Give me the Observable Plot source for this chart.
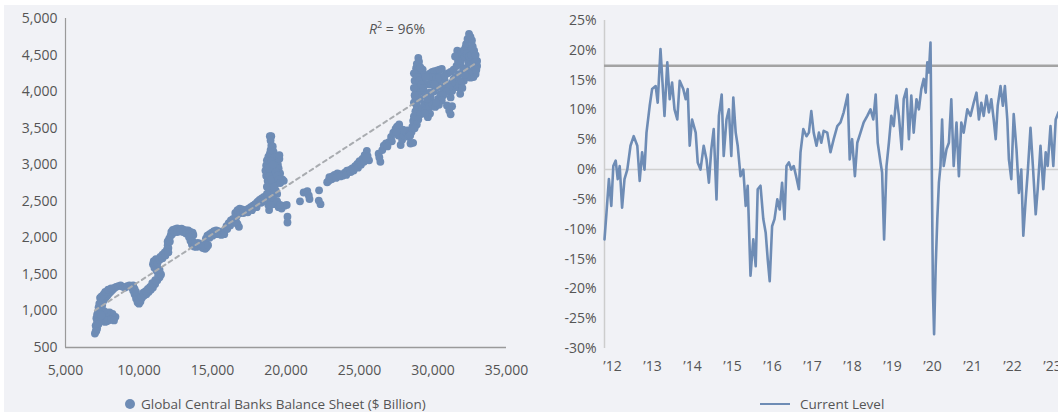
<!DOCTYPE html>
<html>
<head>
<meta charset="utf-8">
<script src="https://cdn.jsdelivr.net/npm/d3@7"></script>
<script src="https://cdn.jsdelivr.net/npm/@observablehq/plot@0.6"></script>
<style>
  html, body { margin: 0; padding: 0; background: #ffffff; overflow: hidden; }
  body { width: 1058px; height: 412px; position: relative; font-family: "Open Sans", "Noto Sans", sans-serif; color: #555; }
  #bg { position: absolute; left: 4px; top: 5px; right: 0; bottom: 0; background: #f1f2f6; }
  #left, #right { position: absolute; top: 0; }
  #left { left: 0; }
  #right { left: 540px; }
  .legend { position: absolute; top: 395px; font-size: 13.5px; color: #555; white-space: nowrap; display: flex; align-items: center; }
  .dotkey { display: inline-block; width: 10px; height: 10px; border-radius: 50%; background: #6e8cb5; margin-right: 6px; }
  .linekey { display: inline-block; width: 30px; height: 2px; background: #6e8cb5; margin-right: 10px; }
  #r2 { position: absolute; left: 369px; top: 18px; font-size: 14px; color: #555; }
</style>
</head>
<body>
<div id="bg"></div>
<div id="left"></div>
<div id="right"></div>
<div id="r2"><i>R</i><sup style="font-size:9px">2</sup> = 96%</div>
<div class="legend" style="left:125px"><span class="dotkey"></span>Global Central Banks Balance Sheet ($ Billion)</div>
<div class="legend" style="left:760px"><span class="linekey"></span>Current Level</div>
<script>
const blue = "#6e8cb5";

// Left chart: x = Global Central Banks Balance Sheet ($ bn), y = index level
const leftXTicks = [5000, 10000, 15000, 20000, 25000, 30000, 35000];
const leftYTicks = [500, 1000, 1500, 2000, 2500, 3000, 3500, 4000, 4500, 5000];
const scatterPoints = [
[7000,690],[7050,720],[7100,780],[7150,850],[7200,900],[7250,960],[7300,1000],[7350,1040],[7400,1050],[7450,1010],
[7500,990],[7550,960],[7600,940],[7700,920],[7800,910],[7900,900],[8000,920],[8100,930],[8200,910],[8300,900],
[8400,920],[8200,960],[8000,980],[7800,980],[7600,1000],[7500,1080],[7550,1130],[7650,1160],[7750,1190],[7850,1210],
[7950,1240],[8050,1260],[8150,1280],[8250,1300],[8350,1320],[8450,1330],[8600,1340],[8750,1350],[8900,1330],[9050,1320],
[9200,1340],[9350,1350],[9500,1320],[9600,1280],[9700,1230],[9800,1170],[9900,1120],[10000,1100],[10100,1130],[10200,1180],
[10350,1210],[10500,1230],[10650,1260],[10800,1290],[10950,1320],[11100,1370],[11250,1420],[11400,1460],[11350,1520],[11200,1550],
[11050,1590],[10950,1640],[11000,1680],[11150,1710],[11300,1700],[11450,1740],[11600,1770],[11750,1800],[11900,1840],[12000,1860],
[11950,1900],[11950,1950],[12050,1990],[12150,2030],[12200,2080],[12300,2110],[12450,2120],[12600,2130],[12750,2120],[12900,2125],
[13050,2110],[13200,2100],[13350,2100],[13500,2080],[13650,2070],[13700,2040],[13550,2000],[13500,1960],[13600,1910],[13750,1880],
[13900,1875],[14050,1890],[14200,1880],[14350,1860],[14500,1850],[14600,1870],[14550,1930],[14550,1990],[14650,2030],[14800,2050],
[14950,2070],[15100,2090],[15250,2100],[15400,2090],[15550,2080],[15700,2060],[15850,2110],[15950,2160],[16100,2200],[16250,2240],
[16400,2260],[16550,2250],[16700,2190],[16800,2150],[16650,2300],[16550,2340],[16700,2380],[16850,2400],[17000,2390],[17150,2380],
[17300,2380],[17450,2400],[17600,2420],[17750,2440],[17900,2460],[18050,2490],[18200,2520],[18350,2540],[18500,2560],[18650,2540],
[18800,2450],[18850,2380],[18950,2520],[19050,2600],[19050,2690],[18900,2720],[18750,2780],[18650,2850],[18600,2920],[18650,2990],
[18700,3060],[18800,3110],[18900,3150],[18950,3200],[19000,3260],[18950,3330],[18900,3390],[19000,3390],[19100,3250],[19150,3180],
[19200,3100],[19300,3020],[19450,3000],[19550,3080],[19550,3130],[19500,2950],[19600,2880],[19750,2800],[19850,2780],[19200,2900],
[19100,2850],[19250,2800],[19400,2750],[19300,2650],[19400,2600],[19300,2500],[19250,2460],[19500,2420],[19700,2400],[19900,2440],
[20050,2450],[20100,2290],[20100,2210],[20950,2500],[21200,2620],[21550,2580],[21600,2530],[21450,2640],[22250,2650],[22230,2510],
[22350,2460],[22800,2760],[22950,2830],[23150,2840],[23300,2860],[23500,2880],[23650,2870],[23850,2850],[24000,2890],[24150,2920],
[24350,2930],[24500,2950],[24700,2980],[24850,3010],[25000,3050],[25200,3080],[25350,3130],[25500,3190],[25550,3120],[25650,3060],
[26300,3150],[26420,3040],[26350,3100],[26550,3200],[26650,3260],[26800,3290],[27000,3310],[27150,3380],[27300,3440],[27450,3490],
[27550,3520],[27650,3400],[27800,3270],[27900,3340],[28000,3400],[28150,3450],[28250,3470],[28350,3380],[28470,3290],[28550,3450],
[28600,3520],[28650,3600],[28700,3660],[28800,3730],[28900,3790],[28850,3860],[28800,3920],[28850,4000],[28900,4060],[28850,4150],
[28800,4240],[28850,4320],[28900,4380],[29000,4460],[29050,4410],[29000,4300],[29100,4250],[29250,4240],[29450,4230],[29600,4220],
[29800,4250],[29950,4270],[30100,4280],[30300,4290],[30450,4300],[30600,4310],[30500,4200],[30350,4100],[30250,4060],[30050,4000],
[29850,3920],[29650,3880],[29400,3830],[29200,3740],[29150,3690],[29000,3620],[29300,3780],[29500,3760],[29600,3740],[29750,3790],
[29950,3830],[30150,3790],[30350,3900],[30500,3970],[30700,4050],[30850,4100],[31000,4000],[31200,3920],[31300,4010],[30950,3810],
[31100,3740],[31200,3690],[31300,3800],[31400,4170],[31550,4200],[31750,4240],[31850,4380],[31900,4430],[31650,4560],[31800,4500],
[32000,4460],[32100,4480],[32200,4600],[32250,4650],[32350,4720],[32450,4790],[32550,4750],[32650,4700],[32700,4620],[32750,4520],
[32850,4460],[33000,4420],[33000,4350],[32900,4240],[32750,4200],[32550,4190],[32350,4290],[32200,4320],[32050,4300],[32100,4150],
[31900,4100],[31650,4060],[31850,3970],[32000,4050],[32400,4400],[32600,4380],[32800,4300],[32900,4400],[32700,4450],[32500,4550],
[30800,4150],[30600,4180],[30400,4200],[29500,4100],[29200,4000],[29100,3900],[29400,4000],[29700,4100],[29300,4150],[29000,4100],
[28950,3950],[28900,3850],
[7050,800],[7100,900],[7150,950],[7200,980],[7250,1050],[7300,1100],[7400,1130],[7350,1180],[7450,1200],[7600,1230],
[7700,1260],[7900,1290],[8100,1310],[7200,850],[7300,880],[7400,900],[7500,880],[7600,870],[7700,850],[7800,860],
[7900,870],[8100,880],[8300,870],[7350,960],[7450,940],[7100,730],[7150,760],[7250,820],
[9700,1300],[9600,1350],[9800,1260],[10000,1150],[10150,1200],[10300,1250],[10450,1270],[10600,1300],[10750,1330],[10900,1380],
[11100,1420],[11300,1480],[11500,1500],[11400,1560],[11200,1600],[11100,1650],[11250,1650],[11400,1700],[11600,1720],[11800,1760],[12000,1800],
[12100,1950],[12250,2050],[12400,2080],[12600,2080],[12800,2090],[13000,2080],[13200,2060],[13400,2050],[13600,2030],[13400,2010],
[13650,1950],[13800,1920],[14000,1930],[14200,1920],[14400,1900],[14700,1900],[14800,2000],[15000,2030],[15300,2050],[15600,2040],
[15800,2050],[16000,2120],[16200,2170],[16450,2210],[16600,2220],[16900,2340],[17100,2340],[17400,2350],[17700,2380],[18000,2420],
[18300,2480],[18500,2500],
[18700,2600],[18800,2680],[18700,2700],[18800,2800],[18900,2850],[19000,2950],[18800,2950],[18750,3000],[18850,3050],[19000,3050],
[19100,3000],[19100,2750],[19200,2700],[19000,2800],[19300,2900],[19400,2850],[19500,2800],[19600,2750],[19200,2600],[19100,2550],
[18950,2450],[19400,2500],[19600,2450],
[22900,2780],[23100,2800],[23400,2820],[23700,2840],[24100,2860],[24400,2900],[24600,2920],[24900,2960],[25100,3000],[25300,3040],[25450,3100],
[28700,3850],[28750,3950],[28700,4050],[28750,4150],[28700,4250],[28950,4200],[29050,4150],[29200,4100],[29350,4050],[29500,3950],
[29600,3900],[29800,3990],[29900,4100],[30000,4150],[30150,4200],[30300,4180],[30100,4100],[29900,4200],[29700,4200],[29500,4200],
[29300,4300],[29150,4330],[30800,4220],[31000,4250],[31200,4270],[31400,4300],[31600,4350],[31700,4420],[31500,4480],[31950,4550],
[32100,4560],[32300,4520],[32450,4480],[32600,4500],[32800,4560],[32900,4500],[32950,4300],[32450,4250],[32300,4200],[32150,4230],
[31800,4150],[31500,4100],[31300,4120],[31100,4060],[30900,4000],[30700,3950],[30600,3880],[30400,3820],[30200,3850],[29800,3700],
[29650,3650],[29450,3700],[28900,3550],[28750,3500],[28450,3400],[28650,3300],[27950,3480],[27700,3550],[27500,3450],[27200,3320],[26900,3250]
];

// Right chart: year vs current level (%)
const rightXTicks = [2012, 2013, 2014, 2015, 2016, 2017, 2018, 2019, 2020, 2021, 2022, 2023];
const rightYTicks = [-30, -25, -20, -15, -10, -5, 0, 5, 10, 15, 20, 25];
const referenceLevel = [17.4];
const zeroLevel = [0];
const levelPoints = [
[2011.80,-11.7],[2011.85,-7.2],[2011.91,-1.6],[2011.97,-6.1],[2012.02,0.6],[2012.08,1.5],[2012.13,-1.6],[2012.18,0.6],[2012.24,-6.4],[2012.30,-1.6],
[2012.37,0],[2012.45,4.0],[2012.53,5.6],[2012.62,4.0],[2012.68,-1.9],[2012.74,2.9],[2012.80,0],[2012.85,6.2],[2012.93,10.7],[2012.99,13.5],
[2013.08,14.0],[2013.13,11.2],[2013.20,20.2],[2013.25,14.6],[2013.30,9.0],[2013.37,18.0],[2013.43,11.8],[2013.49,14.6],[2013.55,10.1],[2013.62,8.4],
[2013.68,14.9],[2013.77,13.5],[2013.83,11.8],[2013.88,13.5],[2013.93,4.0],[2013.99,8.4],[2014.08,6.2],[2014.13,1.2],[2014.20,0],[2014.28,4.0],
[2014.35,1.7],[2014.41,-2.2],[2014.47,3.4],[2014.53,6.8],[2014.60,-5.0],[2014.66,9.0],[2014.73,12.6],[2014.78,2.3],[2014.85,8.4],[2014.91,10.1],
[2014.97,2.3],[2015.02,12.1],[2015.08,6.2],[2015.13,4.0],[2015.20,-1.1],[2015.27,0],[2015.33,-6.1],[2015.38,-2.7],[2015.45,-17.8],[2015.52,-11.7],
[2015.58,-16.2],[2015.63,-3.3],[2015.70,-2.7],[2015.77,-8.3],[2015.83,-10.6],[2015.88,-15.0],[2015.93,-18.7],[2015.99,-9.5],[2016.05,-8.3],[2016.12,-5.0],
[2016.18,-6.7],[2016.24,-2.2],[2016.30,-8.3],[2016.35,0.6],[2016.41,1.2],[2016.47,0],[2016.53,0.6],[2016.59,-1.1],[2016.66,-3.3],[2016.70,2.9],
[2016.77,6.8],[2016.85,5.6],[2016.91,6.2],[2016.97,9.8],[2017.03,6.2],[2017.10,4.0],[2017.16,6.2],[2017.22,4.5],[2017.28,6.5],[2017.37,6.2],
[2017.45,2.9],[2017.53,5.1],[2017.62,7.3],[2017.70,7.9],[2017.78,9.6],[2017.88,12.6],[2017.93,1.7],[2017.99,5.1],[2018.06,-1.1],[2018.12,4.5],
[2018.20,6.2],[2018.28,7.9],[2018.37,9.0],[2018.45,10.1],[2018.52,8.4],[2018.58,12.6],[2018.63,4.5],[2018.70,1.2],[2018.74,-0.5],[2018.79,-11.7],
[2018.85,0.6],[2018.91,4.5],[2018.97,9.0],[2019.03,7.3],[2019.10,12.4],[2019.16,9.0],[2019.23,3.4],[2019.28,11.8],[2019.35,13.5],[2019.41,5.1],
[2019.47,12.4],[2019.53,6.2],[2019.60,11.8],[2019.66,10.1],[2019.72,13.5],[2019.78,15.2],[2019.83,12.9],[2019.87,18.0],[2019.91,16.3],[2019.95,21.3],
[2019.98,2.3],[2020.01,-20.1],[2020.04,-27.6],[2020.08,-16.2],[2020.12,-8.3],[2020.16,-2.2],[2020.20,0.6],[2020.24,8.4],[2020.28,0.6],[2020.35,3.4],
[2020.41,4.5],[2020.47,11.8],[2020.53,0.6],[2020.60,7.9],[2020.66,-1.1],[2020.72,7.9],[2020.78,6.2],[2020.87,10.1],[2020.95,9.0],[2021.03,11.2],
[2021.10,12.9],[2021.16,8.4],[2021.22,11.2],[2021.28,9.0],[2021.35,12.4],[2021.41,9.6],[2021.47,11.8],[2021.53,8.4],[2021.58,5.1],[2021.63,10.7],
[2021.70,14.0],[2021.76,10.7],[2021.81,14.0],[2021.87,8.4],[2021.91,1.7],[2021.97,-1.6],[2022.03,9.3],[2022.10,3.4],[2022.16,-3.9],[2022.22,0],
[2022.27,-11.1],[2022.33,-5.0],[2022.38,-0.5],[2022.45,7.0],[2022.51,0.6],[2022.58,-7.5],[2022.63,-3.3],[2022.70,4.0],[2022.77,-3.3],[2022.83,2.9],
[2022.88,0.6],[2022.95,7.3],[2023.02,0.6],[2023.08,8.4],[2023.15,9.6]
];

const svgStyle = {background: "transparent", overflow: "visible", maxWidth: "none", fontFamily: "'Open Sans', 'Noto Sans', sans-serif", fontSize: "14px", color: "#555"};

const left = Plot.plot({
  width: 540, height: 382,
  marginLeft: 65, marginRight: 34, marginTop: 18, marginBottom: 35,
  style: svgStyle,
  x: {domain: [5000, 35000]},
  y: {domain: [500, 5000]},
  marks: [
    Plot.ruleX([5000], {stroke: "#9a9a9a", strokeWidth: 1.2}),
    Plot.ruleY([500], {stroke: "#9a9a9a", strokeWidth: 1.5}),
    Plot.dot(scatterPoints, {x: d => d[0], y: d => d[1], r: 3.9, fill: blue, stroke: "none"}),
    Plot.linearRegressionY(scatterPoints, {x: d => d[0], y: d => d[1], stroke: "#a9acb0", strokeWidth: 2, strokeDasharray: "4,4", ci: 0}),
    Plot.axisX(leftXTicks, {tickSize: 0, tickPadding: 18, tickFormat: d3.format(","), fill: "#555", label: null}),
    Plot.axisY(leftYTicks, {tickSize: 0, tickPadding: 8, tickFormat: d3.format(","), fill: "#555", label: null})
  ]
});
document.getElementById("left").append(left);

const right = Plot.plot({
  width: 518, height: 388,
  marginLeft: 64, marginRight: 0, marginTop: 20, marginBottom: 40,
  style: svgStyle,
  x: {domain: [2011.8, 2023.15]},
  y: {domain: [-30, 25]},
  marks: [
    Plot.ruleX([2011.8], {stroke: "#cdcdcd", strokeWidth: 1.5}),
    Plot.ruleY(zeroLevel, {stroke: "#cfcfcf", strokeWidth: 1.5}),
    Plot.ruleY(referenceLevel, {stroke: "#a3a3a3", strokeWidth: 2.5}),
    Plot.line(levelPoints, {x: d => d[0], y: d => d[1], stroke: blue, strokeWidth: 2.6}),
    Plot.axisX(rightXTicks, {tickSize: 0, tickPadding: 13, tickFormat: d => "\u2019" + String(d).slice(2), fill: "#555", label: null}),
    Plot.axisY(rightYTicks, {tickSize: 0, tickPadding: 8, tickFormat: d => d + "%", fill: "#555", label: null})
  ]
});
document.getElementById("right").append(right);
</script>
</body>
</html>
